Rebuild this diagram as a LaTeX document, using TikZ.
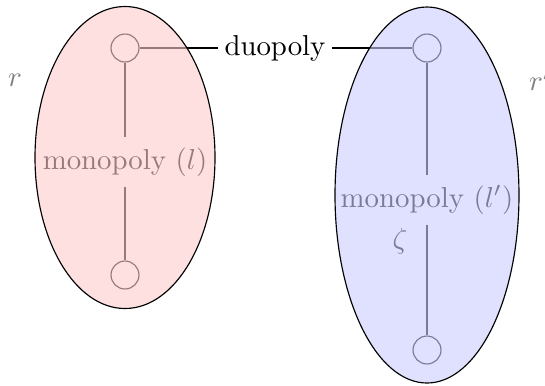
\documentclass[tikz,border=0pt]{standalone}
\begin{document}
\begin{tikzpicture}[x=0.347pt,y=-0.347pt,
  vert/.style={circle,draw,minimum size=9.7pt,inner sep=0pt},
  blob/.style={draw=black,fill opacity=0.6,draw opacity=1},
  lbl/.style={inner sep=3.33pt}]
\useasboundingbox (0,0) rectangle (545,385);
% left group
\node[vert] (tl) at (125,48) {};
\node[vert] (bl) at (125,275) {};
\node[lbl] (ml) at (125,162) {monopoly $(l)$};
\draw (tl) -- (ml) -- (bl);
% right group
\node[vert] (tr) at (427,48) {};
\node[vert] (br) at (427,350) {};
\node[lbl] (mr) at (427,200) {monopoly $(l')$};
\node (z) at (400,241) {$\zeta$};
\draw (tr) -- (mr) -- (br);
% duopoly
\node[inner sep=2pt] (duo) at (275,48) {duopoly};
\draw (tl) -- (duo) -- (tr);
% ellipses
\path[blob,fill=red!20] (125,157.5) ellipse [x radius=90,y radius=151];
\path[blob,fill=blue!20] (427,195) ellipse [x radius=92,y radius=188];
% outer labels
\node[text=gray] (r) at (15,80) {$r$};
\node[text=gray] (rp) at (540,80) {$r'$};
\end{tikzpicture}
\end{document}
